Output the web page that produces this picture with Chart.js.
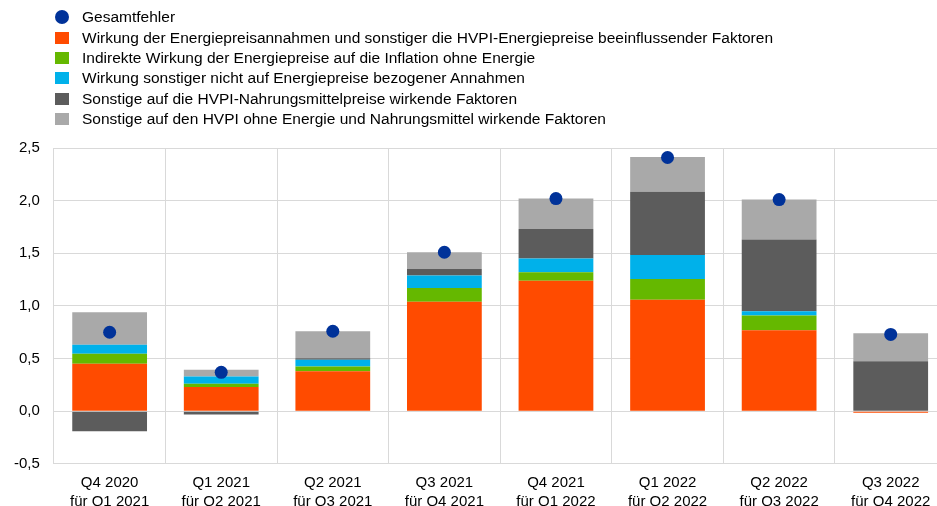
<!DOCTYPE html>
<html lang="de">
<head>
<meta charset="utf-8">
<title>Gesamtfehler nach Komponenten</title>
<script src="https://cdn.jsdelivr.net/npm/chart.js@4.4.1/dist/chart.umd.min.js"></script>
<style>
  html, body { margin: 0; padding: 0; background: #fff; overflow: hidden; }
  #wrap { position: relative; width: 937px; height: 506px; overflow: hidden; }
  #legend {
    position: absolute; left: 55px; top: 7px; margin: 0; padding: 0; list-style: none;
    font: 15.5px "Liberation Sans", Arial, sans-serif; color: #000;
  }
  #legend li { display: flex; align-items: center; height: 20.4px; white-space: nowrap; }
  #legend .box { width: 14px; height: 12px; margin-right: 13px; flex: none; }
  #legend .dot { width: 14px; height: 14px; border-radius: 50%; margin-right: 13px; flex: none; }
  #chart { position: absolute; left: 0; top: 0; }
</style>
</head>
<body>
<div id="wrap">
  <canvas id="chart" width="953" height="520"></canvas>
  <ul id="legend"></ul>
</div>
<script>
// Kategorien (Projektionsrunde / Zielquartal)
const categories = [
  ['Q4 2020', 'für Q1 2021'],
  ['Q1 2021', 'für Q2 2021'],
  ['Q2 2021', 'für Q3 2021'],
  ['Q3 2021', 'für Q4 2021'],
  ['Q4 2021', 'für Q1 2022'],
  ['Q1 2022', 'für Q2 2022'],
  ['Q2 2022', 'für Q3 2022'],
  ['Q3 2022', 'für Q4 2022']
];

// Beiträge in Prozentpunkten
const gesamtfehler = [0.75, 0.37, 0.76, 1.51, 2.02, 2.41, 2.01, 0.73];
const energie      = [0.45, 0.23, 0.38, 1.04, 1.24, 1.06, 0.77, -0.015];
const indirekt     = [0.095, 0.03, 0.044, 0.13, 0.08, 0.195, 0.14, 0];
const sonstAnn     = [0.086, 0.07, 0.064, 0.12, 0.13, 0.23, 0.04, 0];
const nahrung      = [-0.19, -0.03, 0.016, 0.06, 0.28, 0.60, 0.68, 0.475];
const kern         = [0.31, 0.065, 0.256, 0.16, 0.29, 0.33, 0.38, 0.265];

const yTicks = { min: -0.5, max: 2.5, step: 0.5 };

const FONT = '"Liberation Sans", Arial, sans-serif';

const bar = (label, data, color) => ({
  type: 'bar',
  label,
  data,
  backgroundColor: color,
  borderWidth: 0,
  barPercentage: 0.67,
  categoryPercentage: 1.0,
  stack: 'fehler'
});

const chart = new Chart(document.getElementById('chart'), {
  data: {
    labels: categories,
    datasets: [
      {
        type: 'line',
        label: 'Gesamtfehler',
        data: gesamtfehler,
        showLine: false,
        pointRadius: 6.5,
        pointHoverRadius: 6.5,
        pointBackgroundColor: '#003299',
        pointBorderWidth: 0,
        backgroundColor: '#003299',
        stack: 'gesamt'
      },
      bar('Wirkung der Energiepreisannahmen und sonstiger die HVPI-Energiepreise beeinflussender Faktoren', energie, '#FF4B00'),
      bar('Indirekte Wirkung der Energiepreise auf die Inflation ohne Energie', indirekt, '#65B800'),
      bar('Wirkung sonstiger nicht auf Energiepreise bezogener Annahmen', sonstAnn, '#00B1EA'),
      bar('Sonstige auf die HVPI-Nahrungsmittelpreise wirkende Faktoren', nahrung, '#5C5C5C'),
      bar('Sonstige auf den HVPI ohne Energie und Nahrungsmittel wirkende Faktoren', kern, '#A9A9A9')
    ]
  },
  options: {
    responsive: false,
    animation: false,
    layout: { padding: { top: 148, left: 0, right: 0, bottom: 0 } },
    plugins: {
      legend: { display: false },
      tooltip: { enabled: false }
    },
    scales: {
      x: {
        stacked: true,
        offset: true,
        grid: { color: '#D9D9D9', lineWidth: 1, drawTicks: false, offset: true },
        border: { color: '#D9D9D9' },
        ticks: {
          color: '#000',
          padding: 9,
          maxRotation: 0,
          autoSkip: false,
          font: { family: FONT, size: 15, lineHeight: 1.27 }
        }
      },
      y: {
        stacked: true,
        min: yTicks.min,
        max: yTicks.max,
        grid: { color: '#D9D9D9', lineWidth: 1, drawTicks: false },
        border: { color: '#D9D9D9' },
        ticks: {
          stepSize: yTicks.step,
          color: '#000',
          padding: 14,
          font: { family: FONT, size: 15 },
          callback: v => v.toFixed(1).replace('.', ',')
        }
      }
    }
  }
});

// Legende als Liste über dem Diagramm
const legend = document.getElementById('legend');
chart.data.datasets.forEach(ds => {
  const li = document.createElement('li');
  const mark = document.createElement('span');
  mark.className = ds.type === 'line' ? 'dot' : 'box';
  mark.style.background = ds.type === 'line' ? ds.pointBackgroundColor : ds.backgroundColor;
  li.appendChild(mark);
  li.appendChild(document.createTextNode(ds.label));
  legend.appendChild(li);
});
</script>
</body>
</html>
